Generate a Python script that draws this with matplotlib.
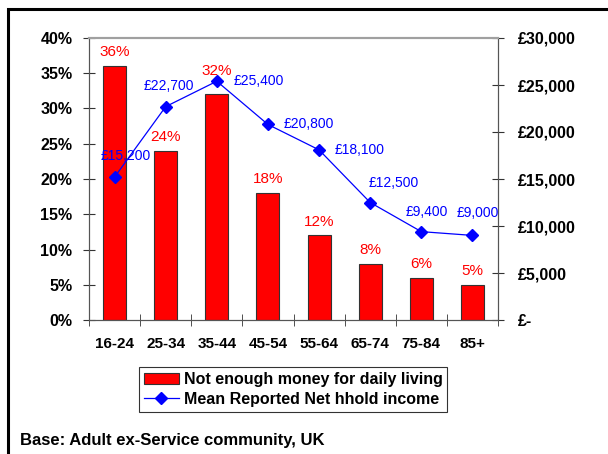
import matplotlib
matplotlib.use("Agg")
import matplotlib.pyplot as plt
from matplotlib.patches import Rectangle
from matplotlib.ticker import FixedLocator
import numpy as np

plt.rcParams["font.family"] = ["Liberation Sans", "DejaVu Sans"]

ages = ["16-24", "25-34", "35-44", "45-54", "55-64", "65-74", "75-84", "85+"]
not_enough = [36, 24, 32, 18, 12, 8, 6, 5]
income = [15200, 22700, 25400, 20800, 18100, 12500, 9400, 9000]
pct_ticks = [0, 5, 10, 15, 20, 25, 30, 35, 40]
gbp_ticks = [0, 5000, 10000, 15000, 20000, 25000, 30000]

# label placement (points) for the value labels, roughly as in the original
pct_dy = [10, 10, 17, 10, 10, 10, 10, 10]
inc_dx = [8, 2, 12, 11, 11.5, 17, 4, 4]
inc_dy = [15, 15, 0, 0, 0, 14, 14, 16]
inc_ha = ["center", "center", "left", "left", "left", "center", "center", "center"]

fig = plt.figure(figsize=(6.08, 4.54), dpi=100)
fig.patches.append(Rectangle((8 / 608, -0.1), 1.2, 1 - 9 / 454 + 0.1, transform=fig.transFigure,
                             fill=False, edgecolor="black", linewidth=2.2))

ax = fig.add_axes([89 / 608, 1 - 320 / 454, (498 - 89) / 608, (320 - 38) / 454])
ax2 = ax.twinx()

xs = np.arange(len(ages))
ax.bar(xs, not_enough, width=0.45, color="#ff0000", edgecolor="#333333", linewidth=0.8,
       label="Not enough money for daily living", zorder=2)
for i, (x, v) in enumerate(zip(xs, not_enough)):
    ax.annotate(f"{v}%", (x, v), xytext=(0, pct_dy[i]), textcoords="offset points",
                ha="center", va="center", color="#ff0000", fontsize=11)

ax2.plot(xs, income, color="#0000ff", linewidth=0.9, marker="D", markersize=6.5,
         label="Mean Reported Net hhold income", zorder=3)
for i, (x, v) in enumerate(zip(xs, income)):
    ax2.annotate(f"£{v:,}", (x, v), xytext=(inc_dx[i], inc_dy[i]), textcoords="offset points",
                 ha=inc_ha[i], va="center", color="#0000ff", fontsize=10)

ax.set_xlim(-0.5, len(ages) - 0.5)
ax.set_ylim(0, 40)
ax.set_yticks(pct_ticks)
ax.set_yticklabels([f"{t}%" for t in pct_ticks], fontweight="bold", fontsize=11.5)
ax2.set_ylim(0, 30000)
ax2.set_yticks(gbp_ticks)
ax2.set_yticklabels(["£-" if t == 0 else f"£{t:,}" for t in gbp_ticks], fontweight="bold", fontsize=11.5)

ax.set_xticks(xs)
ax.set_xticklabels(ages, fontweight="bold", fontsize=11)
ax.tick_params(axis="x", which="major", length=0, pad=12)
ax.xaxis.set_minor_locator(FixedLocator(np.arange(-0.5, len(ages), 1.0)))
ax.tick_params(axis="x", which="minor", length=8, direction="inout", color="#333333")
ax.tick_params(axis="y", length=8, direction="inout", color="#333333", pad=8)
ax2.tick_params(axis="y", length=8, direction="inout", color="#333333", pad=10)

for a in (ax, ax2):
    a.spines["top"].set_color("#a0a0a0")
    a.spines["top"].set_linewidth(1.5)
    a.spines["left"].set_color("#555555")
    a.spines["right"].set_color("#555555")
    a.spines["bottom"].set_color("#555555")
    a.patch.set_visible(False)

h1, l1 = ax.get_legend_handles_labels()
h2, l2 = ax2.get_legend_handles_labels()
leg = fig.legend(h1 + h2, l1 + l2, loc="center", bbox_to_anchor=(293 / 608, 1 - 389.5 / 454),
                 frameon=True, fancybox=False, edgecolor="black",
                 prop={"weight": "bold", "size": 11.5}, handlelength=2.2, borderpad=0.3,
                 labelspacing=0.3, handletextpad=0.3, borderaxespad=0)
leg.get_frame().set_linewidth(0.8)

fig.text(20 / 608, 1 - 441 / 454, "Base: Adult ex-Service community, UK", fontweight="bold",
         fontsize=12, va="center", ha="left")

fig.savefig("out.png", dpi=100)
